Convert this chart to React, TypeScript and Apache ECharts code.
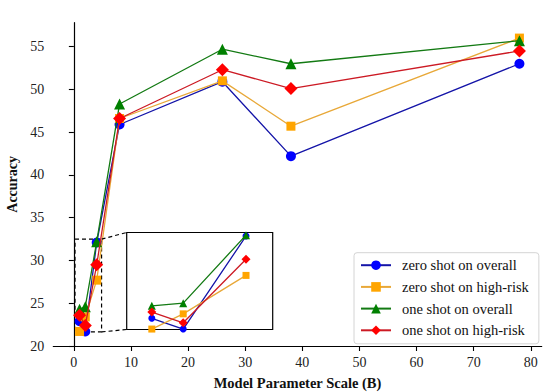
import React, { useEffect, useRef } from "react";
import * as echarts from "echarts";

const modelScale = [1, 2, 4, 8, 26, 38, 78];
const zeroShotOverall = [22.9, 21.7, 32.1, 45.9, 50.9, 42.2, 53.0];
const zeroShotHighRisk = [21.7, 23.4, 27.7, 46.6, 51.0, 45.7, 56.0];
const oneShotOverall = [24.3, 24.6, 32.2, 48.3, 54.7, 53.0, 55.7];
const oneShotHighRisk = [23.6, 22.4, 29.5, 46.6, 52.3, 50.1, 54.5];
const seriesNames = [
  "zero shot on overall",
  "zero shot on high-risk",
  "one shot on overall",
  "one shot on high-risk",
];
const xTicks = [0, 10, 20, 30, 40, 50, 60, 70, 80];
const yTicks = [20, 25, 30, 35, 40, 45, 50, 55];
const insetX = [0.2, 4.85];
const insetY = [21.65, 32.5];
const insetCount = 3;

const FONT = "Liberation Serif, Times New Roman, serif";

const styles = [
  { line: "#1414a8", marker: "#0000ff", symbol: "circle", size: 10, small: 7 },
  { line: "#e8a838", marker: "#ffa500", symbol: "rect", size: 9, small: 7 },
  { line: "#137a13", marker: "#008000", symbol: "triangle", size: 11, small: 8 },
  { line: "#cc1a24", marker: "#ff0000", symbol: "diamond", size: 13, small: 9 },
];

export default function App() {
  const ref = useRef<HTMLDivElement>(null);
  useEffect(() => {
    if (!ref.current) return;
    const chart = echarts.init(ref.current, null, { renderer: "svg" });
    const allData = [zeroShotOverall, zeroShotHighRisk, oneShotOverall, oneShotHighRisk];

    const mainSeries: any[] = allData.map((vals, i) => ({
      name: seriesNames[i],
      type: "line",
      xAxisIndex: 0,
      yAxisIndex: 0,
      data: modelScale.map((x, j) => [x, vals[j]]),
      symbol: styles[i].symbol,
      symbolSize: styles[i].size,
      lineStyle: { color: styles[i].line, width: 1.3 },
      itemStyle: { color: styles[i].marker },
      z: 3 + i,
      ...(i === 0
        ? {
            markArea: {
              silent: true,
              z: 1,
              itemStyle: {
                color: "rgba(0,0,0,0)",
                borderColor: "#000",
                borderWidth: 1.2,
                borderType: [4, 3],
              },
              data: [[{ coord: [insetX[0], insetY[1]] }, { coord: [insetX[1], insetY[0]] }]],
            },
          }
        : {}),
    }));
    const insetSeries: any[] = allData.map((vals, i) => ({
      name: seriesNames[i],
      type: "line",
      xAxisIndex: 1,
      yAxisIndex: 1,
      data: modelScale.slice(0, insetCount).map((x, j) => [x, vals[j]]),
      symbol: styles[i].symbol,
      symbolSize: styles[i].small,
      lineStyle: { color: styles[i].line, width: 1.3 },
      itemStyle: { color: styles[i].marker },
      z: 13 + i,
    }));

    const axisCommon = {
      axisLine: { show: true, lineStyle: { color: "#000", width: 1.2 } },
      axisTick: { show: true, length: 5, lineStyle: { color: "#000", width: 1.1 } },
      splitLine: { show: false },
    };
    const labelStyle = {
      fontFamily: FONT,
      fontSize: 14,
      fontWeight: "normal",
      fontStyle: "normal",
      color: "#222",
      margin: 9,
    };

    chart.setOption({
      animation: false,
      textStyle: { fontFamily: FONT },
      grid: [
        { left: 53.3, right: 8.3, top: 22.7, bottom: 46, outerBoundsMode: "none" },
        {
          left: 126.7,
          top: 232.5,
          width: 146,
          height: 97,
          show: true,
          borderColor: "#000",
          borderWidth: 1.2,
          backgroundColor: "#fff",
          z: 10,
          outerBoundsMode: "none",
        },
      ],
      xAxis: [
        {
          type: "value",
          gridIndex: 0,
          min: -3.6,
          max: 81.9,
          ...axisCommon,
          axisTick: { ...axisCommon.axisTick, customValues: xTicks },
          axisLabel: { ...labelStyle, customValues: xTicks },
          name: "Model Parameter Scale (B)",
          nameLocation: "middle",
          nameGap: 29,
          nameTextStyle: { fontFamily: FONT, fontSize: 14.5, fontWeight: "bold", color: "#111" },
        },
        {
          type: "value",
          gridIndex: 1,
          min: insetX[0],
          max: insetX[1],
          axisLine: { show: false },
          axisTick: { show: false },
          axisLabel: { show: false },
          splitLine: { show: false },
        },
      ],
      yAxis: [
        {
          type: "value",
          gridIndex: 0,
          min: 20,
          max: 57.8,
          ...axisCommon,
          axisTick: { ...axisCommon.axisTick, customValues: yTicks },
          axisLabel: { ...labelStyle, customValues: yTicks },
          name: "Accuracy",
          nameLocation: "middle",
          nameGap: 33,
          nameTextStyle: { fontFamily: FONT, fontSize: 14, fontWeight: "bold", color: "#111" },
        },
        {
          type: "value",
          gridIndex: 1,
          min: insetY[0],
          max: insetY[1],
          axisLine: { show: false },
          axisTick: { show: false },
          axisLabel: { show: false },
          splitLine: { show: false },
        },
      ],
      legend: {
        orient: "vertical",
        left: 354,
        top: 252.7,
        padding: [5, 10, 6, 6],
        itemWidth: 30,
        itemHeight: 12,
        itemGap: 6.7,
        data: seriesNames,
        textStyle: {
          fontFamily: FONT,
          fontSize: 14.5,
          fontWeight: "normal",
          lineHeight: 14,
          color: "#111",
          padding: [0, 0, 0, 6],
        },
        borderColor: "#d4d4d4",
        borderWidth: 1,
        borderRadius: 3,
        backgroundColor: "rgba(255,255,255,0.85)",
        z: 20,
      },
      series: [...mainSeries, ...insetSeries],
    });

    const a1 = chart.convertToPixel({ gridIndex: 0 }, [insetX[1], insetY[1]]) as number[];
    const a2 = chart.convertToPixel({ gridIndex: 0 }, [insetX[1], insetY[0]]) as number[];
    const b1 = chart.convertToPixel({ gridIndex: 1 }, [insetX[0], insetY[1]]) as number[];
    const b2 = chart.convertToPixel({ gridIndex: 1 }, [insetX[0], insetY[0]]) as number[];
    const conn = (p: number[], q: number[]) => ({
      type: "line",
      shape: { x1: p[0], y1: p[1], x2: q[0], y2: q[1] },
      style: { stroke: "#000", lineWidth: 1.2, lineDash: [4, 3] },
      z: 5,
    });
    chart.setOption({ graphic: [conn(a1, b1), conn(a2, b2)] });

    return () => chart.dispose();
  }, []);
  return (
    <div
      ref={ref}
      style={{ position: "absolute", left: 0, top: 0, width: 550, height: 392, background: "#fff" }}
    />
  );
}
